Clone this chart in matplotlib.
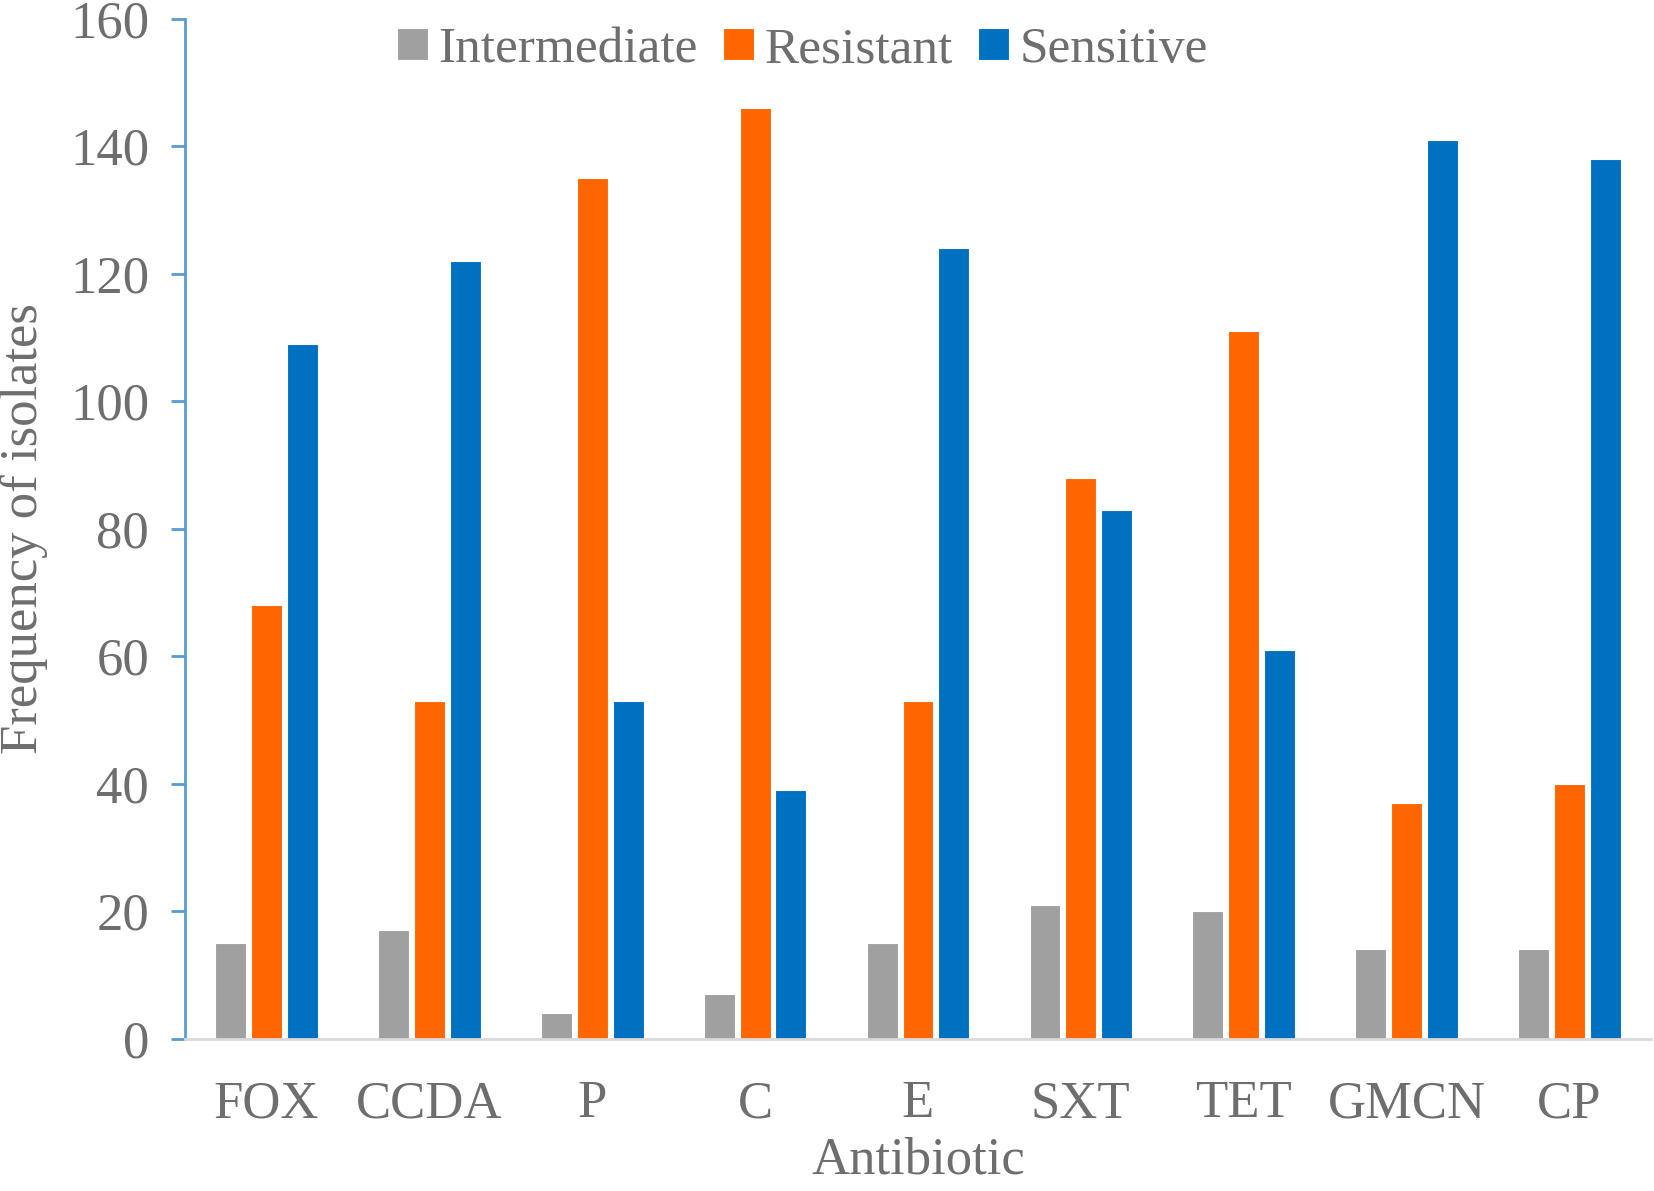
import matplotlib.pyplot as plt
import numpy as np

# Antibiotic susceptibility counts
antibiotics = ["FOX", "CCDA", "P", "C", "E", "SXT", "TET", "GMCN", "CP"]
intermediate = [15, 17, 4, 7, 15, 21, 20, 14, 14]
resistant = [68, 53, 135, 146, 53, 88, 111, 37, 40]
sensitive = [109, 122, 53, 39, 124, 83, 61, 141, 138]

series_names = ["Intermediate", "Resistant", "Sensitive"]
colors = ["#A0A0A0", "#FF6600", "#0070C0"]
text_color = "#6E6E6E"

plt.rcParams['font.family'] = ['Liberation Serif', 'DejaVu Serif']

fig = plt.figure(figsize=(16.54, 11.91), dpi=100)
ax = fig.add_axes([0.112, 0.128, 0.886, 0.856])

x = np.arange(len(antibiotics))
width = 0.19
offsets = [-0.22, 0.0, 0.22]
for vals, off, col, name in zip([intermediate, resistant, sensitive], offsets, colors, series_names):
    ax.bar(x + off, vals, width, color=col, edgecolor='white', linewidth=0.8, label=name)

ax.set_xlim(-0.5, len(antibiotics) - 0.5)
ax.set_ylim(0, 160)
ax.set_yticks(range(0, 161, 20))
ax.set_xticks(x)
ax.set_xticklabels(antibiotics)

# Axis styling
for s in ['top', 'right']:
    ax.spines[s].set_visible(False)
ax.spines['left'].set_color('#5B9BD5')
ax.spines['left'].set_linewidth(2)
ax.spines['bottom'].set_color('#D9D9D9')
ax.spines['bottom'].set_linewidth(2)
ax.tick_params(axis='y', direction='out', length=10, width=2, color='#5B9BD5',
               labelsize=38, labelcolor=text_color, pad=16)
ax.tick_params(axis='x', length=0, labelsize=38, labelcolor=text_color, pad=30)

ax.set_ylabel("Frequency of isolates", fontsize=38, color=text_color, labelpad=16)
ax.set_xlabel("Antibiotic", fontsize=38, color=text_color, labelpad=6)

# Legend
fig.legend(loc='center', bbox_to_anchor=(0.485, 0.958), ncol=3, frameon=False,
           fontsize=37, labelcolor=text_color, handlelength=0.6, handleheight=0.6,
           handletextpad=0.2, columnspacing=0.5)

plt.savefig("out.png", dpi=100)
